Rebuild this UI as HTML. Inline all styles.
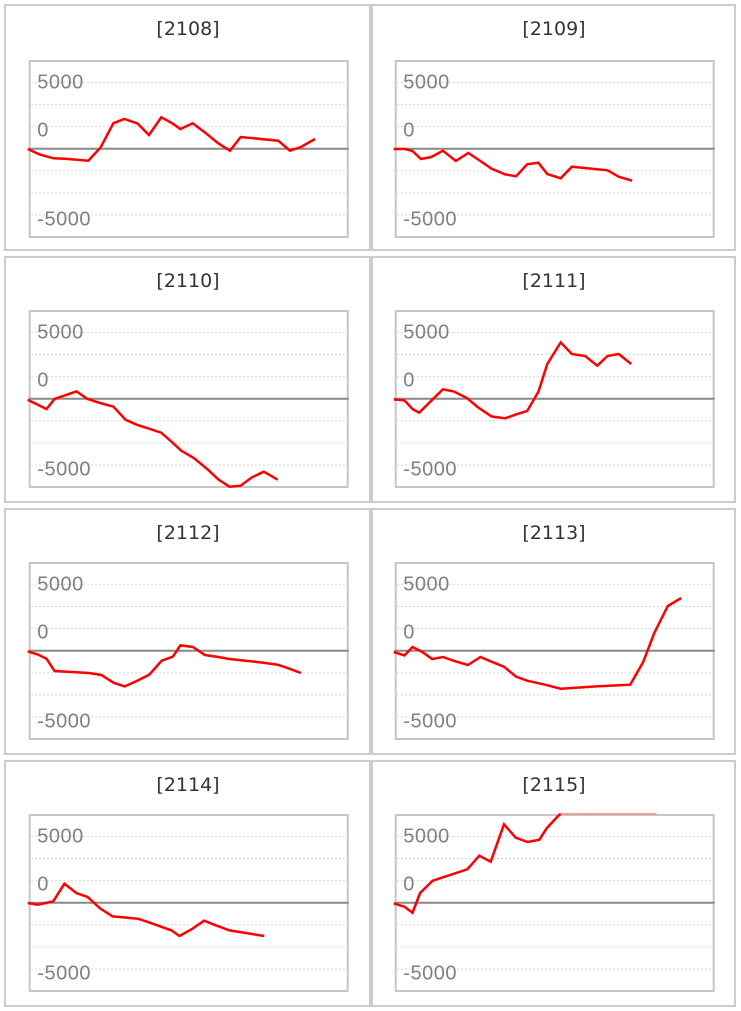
<!DOCTYPE html>
<html><head><meta charset="utf-8"><style>
html,body{margin:0;padding:0;background:#fff;}
svg{display:block;}
.t{font-family:"DejaVu Sans","Liberation Sans",sans-serif;font-size:19px;fill:#333;}
.l{font-family:"Liberation Sans",sans-serif;font-size:20px;fill:#808080;letter-spacing:0.5px;}
.g{stroke:#dadada;stroke-width:1;stroke-dasharray:2 2;}
.z{stroke:#888;stroke-width:2;}
.b{fill:none;stroke:#c6c6c6;stroke-width:2;}
.p{fill:none;stroke:#cccccc;stroke-width:2;}
.r{fill:none;stroke:#ff0000;stroke-width:2.5;stroke-linejoin:miter;}
</style></head><body>
<svg width="741" height="1011" viewBox="0 0 741 1011" xmlns="http://www.w3.org/2000/svg">
<rect width="741" height="1011" fill="#fff"/>
<defs>
<g id="chart">
<rect class="b" x="29.7" y="61" width="318" height="176"/>
<line class="g" x1="31" x2="346.5" y1="82.4" y2="82.4"/>
<line class="g" x1="31" x2="346.5" y1="104.5" y2="104.5"/>
<line class="g" x1="31" x2="346.5" y1="126.6" y2="126.6"/>
<line class="g" x1="31" x2="346.5" y1="170.8" y2="170.8"/>
<line class="g" x1="31" x2="346.5" y1="192.9" y2="192.9"/>
<line class="g" x1="31" x2="346.5" y1="215" y2="215"/>
<text class="l" x="37.3" y="88.3">5000</text>
<text class="l" x="37.3" y="136.7">0</text>
<text class="l" x="37.3" y="225.3">-5000</text>
<line class="z" x1="28.5" x2="348.7" y1="148.7" y2="148.7"/>
</g>
</defs>

<!-- 2108 -->
<g transform="translate(0,0)">
<rect class="p" x="5" y="5" width="365" height="245"/>
<text class="t" x="188" y="35" text-anchor="middle">[2108]</text>
<g transform="translate(0,0)">
<use href="#chart"/>
<polyline class="r" points="27.7,149 39.3,154.3 53.3,158.3 65,158.7 88.3,160.7 100.7,147.3 113.3,123.3 124.3,119 137.3,123.3 149,135 161.3,117.3 172.3,123.3 180.3,129 192.7,123.3 204,131.7 218.3,143.3 230,150.7 240.7,137 278.3,140.7 290,150.7 301,147 315,139"/>
</g>
</g>

<!-- 2109 -->
<g transform="translate(366,0)">
<rect class="p" x="6" y="5" width="363" height="245"/>
<text class="t" x="188" y="35" text-anchor="middle">[2109]</text>
<g transform="translate(0,0)">
<use href="#chart"/>
<polyline class="r" points="27.7,149 39.4,149 46.5,151 55,159 65.3,157 76.9,150.7 89.8,161 102.3,153 114.4,161 125.5,168.7 138.9,174.3 150.1,176.3 161.2,164.3 172.4,162.7 181.3,174 194.7,178.3 205.9,166.7 241.6,170.3 252.7,176.7 266.1,180.7"/>
</g>
</g>

<!-- 2110 -->
<g transform="translate(0,252)">
<rect class="p" x="5" y="5" width="365" height="245"/>
<text class="t" x="188" y="35" text-anchor="middle">[2110]</text>
<g transform="translate(0,-2)">
<use href="#chart"/>
<polyline class="r" points="27.7,149.7 46.5,159 54.6,149 76.4,141.4 87.6,149 100.1,153 113.5,156.7 125.5,169.7 136.7,174.7 149.2,178.7 161.2,182.7 171.5,191.7 181.3,200.7 193.8,208 207.2,219 218.3,229.4 229.5,236.7 240.6,235.7 251.8,227.4 263.8,221.7 277.7,229.7"/>
</g>
</g>

<!-- 2111 -->
<g transform="translate(366,252)">
<rect class="p" x="6" y="5" width="363" height="245"/>
<text class="t" x="188" y="35" text-anchor="middle">[2111]</text>
<g transform="translate(0,-2)">
<use href="#chart"/>
<polyline class="r" points="27.7,149.4 38.5,150.4 46.5,159 53.2,162.7 65.3,150.7 76.9,139.4 87.6,141.4 101,148 112.1,157.4 125.5,166.4 138.9,168.4 149.2,164.7 161.2,161 172.4,141.7 181.3,114 194.7,92.4 205.8,104 219.2,106 231.3,115.7 241.5,106 252.7,104 265.2,114"/>
</g>
</g>

<!-- 2112 -->
<g transform="translate(0,504)">
<rect class="p" x="5" y="5" width="365" height="245"/>
<text class="t" x="188" y="35" text-anchor="middle">[2112]</text>
<g transform="translate(0,-2)">
<use href="#chart"/>
<polyline class="r" points="27.7,149.4 37.6,152.4 46.5,156.7 54.6,169 88.9,171 101.4,173 113.5,180.7 124.6,184.4 136.7,179 149.2,172.7 161.7,158.7 172.8,154.7 180.4,143.4 192.9,145 204.9,153 218.3,155 229.5,157 260.7,160.4 277.7,162.7 288.8,166.4 300.9,171"/>
</g>
</g>

<!-- 2113 -->
<g transform="translate(366,504)">
<rect class="p" x="6" y="5" width="363" height="245"/>
<text class="t" x="188" y="35" text-anchor="middle">[2113]</text>
<g transform="translate(0,-2)">
<use href="#chart"/>
<polyline class="r" points="27.7,150 38.5,153.4 46.5,145 56.4,150 66.2,157 76.9,155 89.8,159.4 101.9,163 114.4,155 125.5,159.7 138,164.7 150.1,174.7 161.2,178.7 179.1,182.7 194.7,186.7 230.4,184.4 264.2,182.7 277.2,160 288.4,130.7 301.8,104 315.2,96"/>
</g>
</g>

<!-- 2114 -->
<g transform="translate(0,756)">
<rect class="p" x="5" y="5" width="365" height="245"/>
<text class="t" x="188" y="35" text-anchor="middle">[2114]</text>
<g transform="translate(0,-2)">
<use href="#chart"/>
<polyline class="r" points="27.7,149 37.6,150.7 53.2,147.4 64.4,129.7 76.4,139 87.6,143 100.1,154.4 112.6,162.4 138,164.7 149.2,168.4 171.5,176.4 179.5,182 192.9,174.4 204.1,166.7 216.1,171.4 229.5,176.4 264.3,182"/>
</g>
</g>

<!-- 2115 -->
<g transform="translate(366,756)">
<rect class="p" x="6" y="5" width="363" height="245"/>
<text class="t" x="188" y="35" text-anchor="middle">[2115]</text>
<g transform="translate(0,-2)">
<use href="#chart"/>
<line x1="194.7" x2="290.6" y1="60" y2="60" stroke="#e9a3a3" stroke-width="2"/>
<polyline class="r" points="27.7,149.4 38.5,152.7 46.5,158.7 54.1,139 66.7,126.7 101.3,115.3 113.3,101.7 124.7,107.7 138,70.3 149.7,83.7 161.7,88 173.3,85.7 180.7,74.3 193,61 194.7,60"/>
</g>
</g>
</svg>
</body></html>
